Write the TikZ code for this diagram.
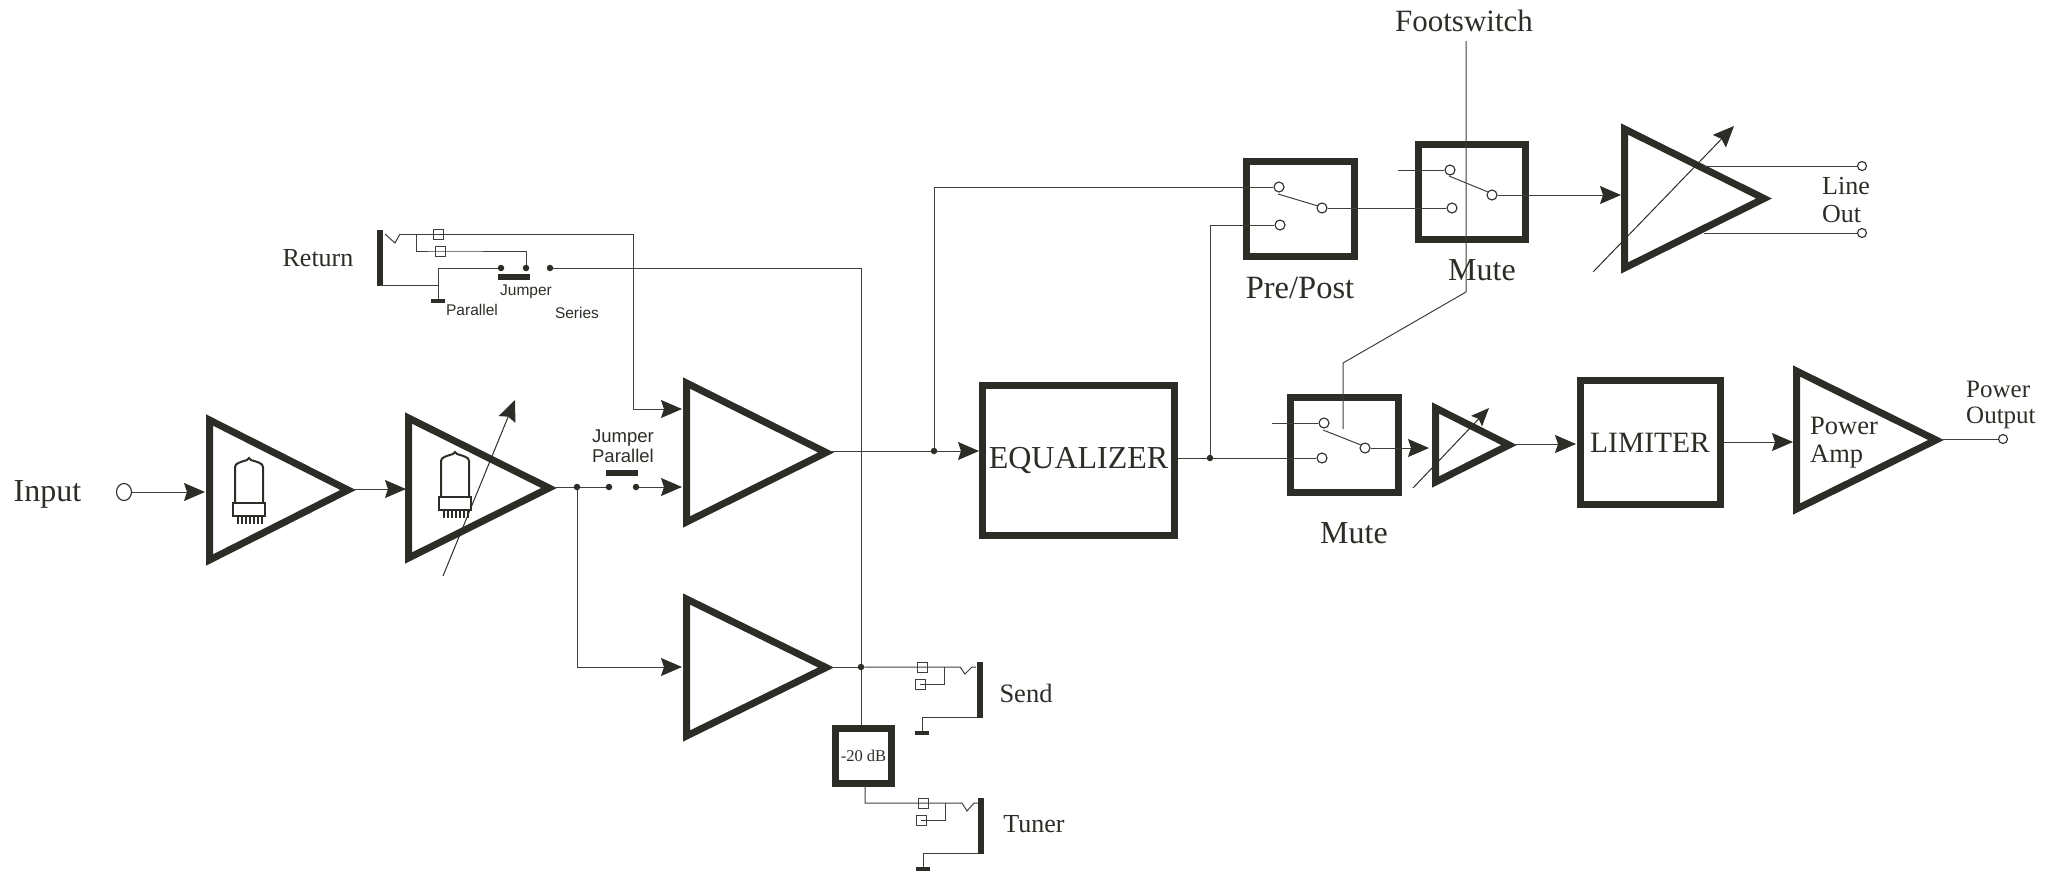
\documentclass[tikz,border=0pt]{standalone}
\usepackage{fontspec}
\setmainfont{Liberation Serif}
\setsansfont{Liberation Sans}
\usetikzlibrary{arrows.meta,shapes.geometric}
\definecolor{ink}{HTML}{2D2D27}
\definecolor{wiregrey}{HTML}{3F3F3A}
\tikzset{
  wire/.style={draw=wiregrey,line width=1pt},
  feed/.style={wire,-{Stealth[length=21pt,width=18pt,inset=3pt,color=ink]}},
  trim/.style={draw=ink,line width=1pt,-{Stealth[length=21pt,width=18pt,inset=3pt,color=ink]}},
  heavy/.style={draw=ink,line width=7pt,miter limit=10,line join=miter},
  blockbox/.style={draw=ink,line width=7pt,inner sep=0pt,fill=none},
  bar/.style={draw=ink,line width=6pt},
  gnd/.style={draw=ink,line width=4pt},
  junc/.style={circle,fill=ink,draw=none,inner sep=0pt,minimum size=6.5pt},
  port/.style={circle,draw=ink,line width=1.1pt,fill=white,inner sep=0pt,minimum size=10pt},
  lug/.style={draw=wiregrey,line width=1pt,inner sep=0pt,minimum size=10pt,fill=none},
  ser/.style={font=\rmfamily,text=ink,inner sep=0pt,align=center},
  serl/.style={font=\rmfamily,text=ink,inner sep=0pt,align=left,anchor=west},
  san/.style={font=\sffamily\fontsize{15.5}{19}\selectfont,text=ink,inner sep=0pt,align=center},
}
\newcommand{\gainamp}[5]{% name, left, top, bottom, tip (outer extents)
  \draw[heavy] ({#2+3.5},{#3+4}) -- ({#2+3.5},{#4-4}) -- ({#5-4},{(#3+#4)/2}) -- cycle;
  \coordinate (#1-tip) at (#5,{(#3+#4)/2});
}
\newcommand{\tubeicon}[2]{%
  \begin{scope}[shift={(#1,#2)}]
    \draw[draw=ink,line width=2pt] (0,44) -- (0,8) .. controls (0,4) and (6,3) .. (12,1) -- (14,-1) -- (16,1) .. controls (22,3) and (28,4) .. (28,8) -- (28,44);
    \draw[draw=ink,line width=2pt] (-2,44) rectangle (30,57);
    \foreach \p in {3,7,11,15,19,23,27}
      \draw[draw=ink,line width=1.3pt] (\p,57) -- (\p,65);
  \end{scope}
}
\begin{document}
\begin{tikzpicture}[x=1pt,y=-1pt]
\useasboundingbox (0,0) rectangle (2062,871);

% amplifiers
\gainamp{aa}{206}{416}{564}{352}
\gainamp{ab}{405}{414}{562}{553}
\gainamp{ac}{683}{379}{526}{830}
\gainamp{ad}{683}{595}{740}{830}
\gainamp{ae}{1621}{125}{272}{1768}
\gainamp{af}{1432}{404}{486}{1513}
\gainamp{ag}{1793}{367}{513}{1940}
\tubeicon{235}{459}
\tubeicon{441}{453}

% blocks
\node[blockbox,minimum width=192pt,minimum height=150pt,font=\fontsize{32}{36}\selectfont,text=ink] (eq) at (1078.5,460.5) {EQUALIZER};
\node[blockbox,minimum width=140pt,minimum height=124pt,font=\fontsize{29.5}{33}\selectfont,text=ink] (lim) at (1650,442.5) {LIMITER};
\node[blockbox,minimum width=108pt,minimum height=95pt] (pp) at (1300.5,208.5) {};
\node[blockbox,minimum width=107pt,minimum height=95pt] (mt) at (1472,191.5) {};
\node[blockbox,minimum width=108pt,minimum height=95pt] (ml) at (1344.5,445) {};
\node[blockbox,minimum width=56pt,minimum height=55pt,font=\fontsize{16.5}{20}\selectfont,text=ink] (att) at (863.5,755.5) {-20 dB};

% input
\node[ellipse,draw=ink,line width=1.1pt,inner sep=0pt,minimum width=15pt,minimum height=17pt,fill=white] (inport) at (124,492) {};
\coordinate (aa-in) at (205,492);
\draw[feed] (inport) -- (aa-in);
\coordinate (ab-in) at (406,489);
\draw[feed] (aa-tip |- ab-in) -- (ab-in);
\node[ser,font=\fontsize{32}{36}\selectfont] (linput) at (47.5,494) {Input};

% variable arrows
\coordinate (va1) at (443,576); \coordinate (va2) at (515,400);
\draw[trim] (va1) -- (va2);
\coordinate (ve1) at (1593,272); \coordinate (ve2) at (1734,126);
\draw[trim] (ve1) -- (ve2);
\coordinate (vf1) at (1413,488); \coordinate (vf2) at (1489,408);
\draw[draw=ink,line width=1pt,-{Stealth[length=18pt,width=15pt,inset=3pt,color=ink]}] (vf1) -- (vf2);

% jumper parallel
\node[junc] (j0) at (577,487) {};
\node[junc] (j1) at (609,487) {};
\node[junc] (j2) at (636,487) {};
\draw[wire] (ab-tip |- j0) -- (j0);
\draw[wire] (j0) -- (j1);
\coordinate (ac-in) at (682,487);
\draw[feed] (j2) -- (ac-in);
\coordinate (jb1) at (606,473); \coordinate (jb2) at (638,473);
\draw[bar] (jb1) -- (jb2);
\node[san,font=\sffamily\fontsize{18.5}{20}\selectfont] (ljp) at (623,446.5) {Jumper\\Parallel};
\coordinate (ad-in) at (682,667);
\draw[feed] (j0) |- (ad-in);

% return jack
\coordinate (rb1) at (380,230); \coordinate (rb2) at (380,286);
\draw[bar] (rb1) -- (rb2);
\node[ser,font=\fontsize{26}{30}\selectfont] (lret) at (318,258) {Return};
\coordinate (rt0) at (385,234); \coordinate (rt1) at (395,243); \coordinate (rt2) at (400,234);
\draw[wire] (rt0) -- (rt1) -- (rt2);
\coordinate (rt3) at (633,234);
\coordinate (ac-in2) at (682,409);
\draw[wire] (rt2) -- (rt3);
\draw[feed] (rt3) |- (ac-in2);
\node[lug] (rl1) at (438,234.5) {};
\node[lug] (rl2) at (440,251) {};
\coordinate (rbr) at (416,234);
\node[junc] (rd1) at (501,268) {};
\node[junc] (rd2) at (526,268) {};
\node[junc] (rd3) at (550,268) {};
\draw[wire] (rbr) |- (rl2.center) -| (rd2);
\coordinate (rg) at (438,285);
\coordinate (rgb) at (380,285);
\draw[wire] (rgb) -- (rg);
\coordinate (rgg) at (438,300);
\draw[wire] (rgg) |- (rd1);
\coordinate (rg1) at (431,301); \coordinate (rg2) at (445,301);
\draw[gnd] (rg1) -- (rg2);
\coordinate (rj1) at (498,277); \coordinate (rj2) at (530,277);
\draw[bar] (rj1) -- (rj2);
\node[san] (lpar) at (472,310) {Parallel};
\node[san] (ljum) at (526,292) {Jumper};
\node[san] (lser) at (577,313) {Series};

% send
\node[junc] (sd) at (861,667) {};
\draw[wire] (rd3) -| (sd);
\draw[wire] (sd) -- (att.north -| sd);
\draw[wire] (ad-tip |- sd) -- (sd);
\node[lug] (sl1) at (922,667) {};
\node[lug] (sl2) at (920,684) {};
\coordinate (sj) at (944,667);
\coordinate (st0) at (960,667); \coordinate (st1) at (965,674); \coordinate (st2) at (972,667); \coordinate (st3) at (976,667);
\draw[wire] (sd) -- (sl1.center) -- (sj) -- (st0) -- (st1) -- (st2) -- (st3);
\draw[wire] (sj) |- (sl2.center);
\coordinate (sb1) at (980,662); \coordinate (sb2) at (980,718);
\draw[bar] (sb1) -- (sb2);
\coordinate (sg0) at (977,717); \coordinate (sg) at (922,733);
\draw[wire] (sg0) -| (sg);
\coordinate (sg1) at (915,733); \coordinate (sg2) at (929,733);
\draw[gnd] (sg1) -- (sg2);
\node[ser,font=\fontsize{26.5}{30}\selectfont] (lsend) at (1026,693) {Send};

% tuner
\coordinate (tt) at (865,786);
\node[lug] (tl1) at (923,803) {};
\node[lug] (tl2) at (921,820) {};
\coordinate (tj) at (945,803);
\coordinate (tt0) at (962,803); \coordinate (tt1) at (967,811); \coordinate (tt2) at (974,803); \coordinate (tt3) at (978,803);
\draw[wire] (tt) |- (tl1.center) -- (tj) -- (tt0) -- (tt1) -- (tt2) -- (tt3);
\draw[wire] (tj) |- (tl2.center);
\coordinate (tb1) at (981,798); \coordinate (tb2) at (981,854);
\draw[bar] (tb1) -- (tb2);
\coordinate (tg0) at (978,853); \coordinate (tg) at (923,868);
\draw[wire] (tg0) -| (tg);
\coordinate (tg1) at (916,869); \coordinate (tg2) at (930,869);
\draw[gnd] (tg1) -- (tg2);
\node[ser,font=\fontsize{26}{30}\selectfont] (ltun) at (1034,824) {Tuner};

% preamp to EQ
\node[junc] (pd) at (934,451) {};
\draw[wire] (ac-tip |- pd) -- (pd);
\coordinate (eq-in) at (979,451);
\draw[feed] (pd) -- (eq-in);
\node[junc] (ed) at (1210,458) {};
\draw[wire] (eq.east |- ed) -- (ed);

% pre/post switch
\node[port] (pa) at (1279,187) {};
\node[port] (pb) at (1280,225) {};
\node[port] (pc) at (1322,208) {};
\coordinate (pbl1) at (1278,194); \coordinate (pbl2) at (1318,206);
\draw[wire] (pbl1) -- (pbl2);
\draw[wire] (pd) |- (pa);
\draw[wire] (ed) |- (pb);

% top mute
\node[port] (ma) at (1450,170) {};
\node[port] (mb) at (1452,208) {};
\node[port] (mc) at (1492,195) {};
\coordinate (mbl1) at (1449,176); \coordinate (mbl2) at (1488,192);
\draw[wire] (mbl1) -- (mbl2);
\coordinate (mw) at (1398,170);
\draw[wire] (mw) -- (ma);
\draw[wire] (pc) -- (mb);
\coordinate (ae-in) at (1621,195);
\draw[feed] (mc) -- (ae-in);

% footswitch
\node[ser,font=\fontsize{31}{35}\selectfont] (lfoot) at (1464,21) {Footswitch};
\coordinate (fs0) at (1466,41); \coordinate (fs1) at (1466,292); \coordinate (fs2) at (1343,363); \coordinate (fs3) at (1343,429);
\draw[wire] (fs0) -- (fs1) -- (fs2) -- (fs3);

% lower mute
\node[port] (na) at (1324,423) {};
\node[port] (nb) at (1322,458) {};
\node[port] (nc) at (1365,448) {};
\coordinate (nbl1) at (1323,430); \coordinate (nbl2) at (1361,445);
\draw[wire] (nbl1) -- (nbl2);
\coordinate (nw) at (1272,423);
\draw[wire] (nw) -- (na);
\draw[wire] (ed) -- (nb);
\coordinate (af-in) at (1429,448);
\draw[feed] (nc) -- (af-in);

% line out
\node[port,minimum size=9pt] (lo1) at (1862,166) {};
\node[port,minimum size=9pt] (lo2) at (1862,233) {};
\coordinate (lt1) at (1704,166); \coordinate (lt2) at (1704,233);
\draw[wire] (lt1) -- (lo1);
\draw[wire] (lt2) -- (lo2);
\node[serl,font=\fontsize{26}{28}\selectfont] (llo) at (1822,200) {Line\\Out};

% limiter and power amp
\coordinate (lim-in) at (1576,444);
\draw[feed] (af-tip |- lim-in) -- (lim-in);
\coordinate (lim-out) at (1723,442);
\coordinate (ag-in) at (1793,442);
\draw[feed] (lim-out) -- (ag-in);
\node[serl,font=\fontsize{26.5}{28}\selectfont] (lpa) at (1810,443) {Power\\Amp};
\node[port,minimum size=9pt] (po) at (2003,439) {};
\draw[wire] (ag-tip |- po) -- (po);
\node[serl,font=\fontsize{25}{26}\selectfont] (lpo) at (1966,405) {Power\\Output};

% labels
\node[ser,font=\fontsize{32.5}{36}\selectfont] (lpp) at (1300,288) {Pre/Post};
\node[ser,font=\fontsize{32}{36}\selectfont] (lmt) at (1482,270) {Mute};
\node[ser,font=\fontsize{32}{36}\selectfont] (lml) at (1354,533) {Mute};
\end{tikzpicture}
\end{document}
